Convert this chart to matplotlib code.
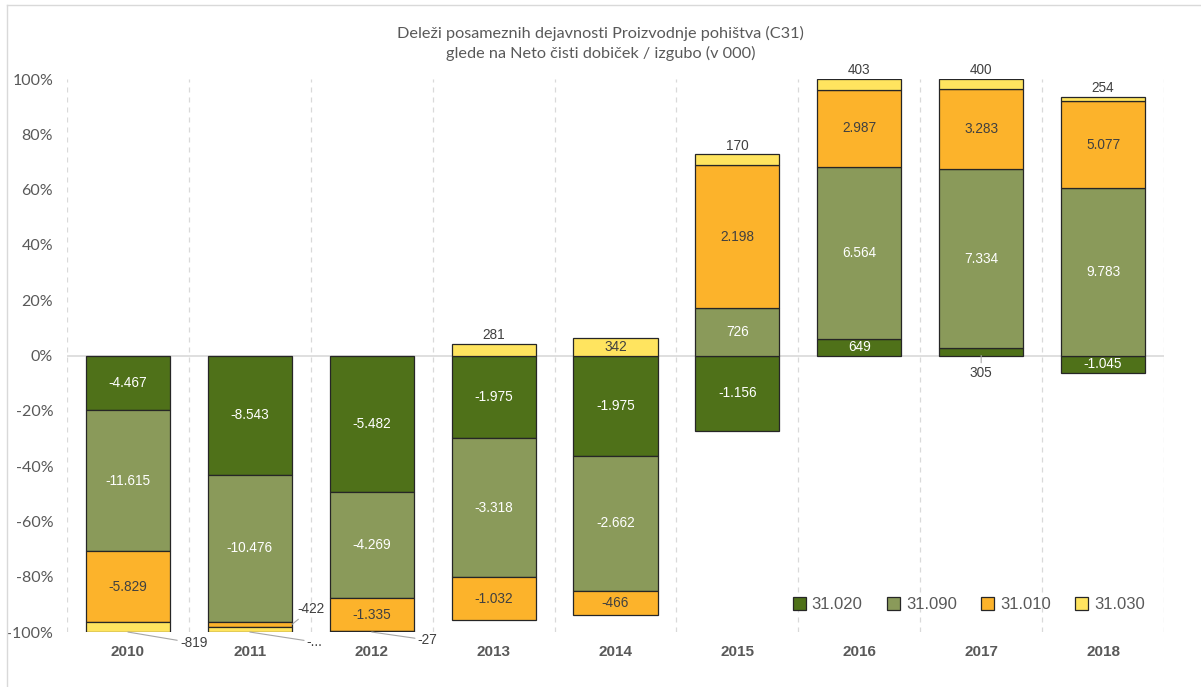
import numpy as np
import matplotlib.pyplot as plt
from matplotlib.lines import Line2D
from matplotlib.patches import Patch

# Neto čisti dobiček / izguba (v 000 EUR) po dejavnostih
leta = ['2010', '2011', '2012', '2013', '2014', '2015', '2016', '2017', '2018']
dejavnosti = ['31.020', '31.090', '31.010', '31.030']
v_31020 = [-4467, -8543, -5482, -1975, -1975, -1156, 649, 305, -1045]
v_31090 = [-11615, -10476, -4269, -3318, -2662, 726, 6564, 7334, 9783]
v_31010 = [-5829, -422, -1335, -1032, -466, 2198, 2987, 3283, 5077]
v_31030 = [-819, -330, -27, 281, 342, 170, 403, 400, 254]

barve = ['#4F7119', '#8A9A5A', '#FCB32B', '#FFE45F']
svetle = [True, True, False, False]

# oznake z vodilno črto: (leto, dejavnost) -> zamik v pikslih
vodila = {
    ('2010', '31.030'): (52, -11),
    ('2011', '31.010'): (5, 15),
    ('2011', '31.030'): (57, -10),
    ('2012', '31.030'): (46, -8),
    ('2017', '31.020'): (0, -17),
}
skrajsane = {('2011', '31.030'): '-...'}

serije = np.array([v_31020, v_31090, v_31010, v_31030], dtype=float)
skupaj = np.abs(serije).sum(axis=0)
deleži = serije / skupaj * 100


def fmt(v):
    return f'{int(v):,}'.replace(',', '.')


siva = '#595959'
fig = plt.figure(figsize=(12.01, 6.87), dpi=100)
ax = fig.add_axes([0.0558, 0.080, 0.9134, 0.805])

x = np.arange(len(leta))
sirina = 0.69
poz = np.zeros(len(leta))
neg = np.zeros(len(leta))

for i, ime in enumerate(dejavnosti):
    d = deleži[i]
    dno = np.where(d >= 0, poz, neg)
    ax.bar(x, d, sirina, bottom=dno, color=barve[i], edgecolor='#262626',
           linewidth=0.9, zorder=3)
    for j in range(len(leta)):
        h = d[j]
        zg = dno[j] + h
        sredina = dno[j] + h / 2
        besedilo = skrajsane.get((leta[j], ime), fmt(serije[i, j]))
        kljuc = (leta[j], ime)
        if kljuc in vodila:
            dx, dy = vodila[kljuc]
            if dy < 0:
                xy = (x[j], min(dno[j], zg))
            else:
                xy = (x[j] + sirina / 2, sredina)
            ax.annotate(besedilo, xy=xy, xytext=(dx, dy), textcoords='offset pixels',
                        ha='left' if dx > 0 else 'center', va='center',
                        fontsize=9.8, color='#404040', family='Liberation Sans',
                        arrowprops=dict(arrowstyle='-', color='#A6A6A6', lw=0.8,
                                        shrinkA=0, shrinkB=0),
                        zorder=5)
        elif ime == '31.030' and abs(h) < 5:
            ax.text(x[j], zg + 0.6, besedilo, ha='center', va='bottom',
                    fontsize=9.8, color='#404040', family='Liberation Sans', zorder=5)
        else:
            ax.text(x[j], sredina, besedilo, ha='center', va='center',
                    fontsize=9.8, color='white' if svetle[i] else '#404040',
                    family='Liberation Sans', zorder=5)
    poz = np.where(d >= 0, poz + d, poz)
    neg = np.where(d < 0, neg + d, neg)

ax.set_xlim(-0.5, len(leta) - 0.5)
ax.set_ylim(-100, 100)
ax.set_yticks(np.arange(-100, 101, 20))
ax.set_yticklabels([f'{t}%' for t in range(-100, 101, 20)])
ax.set_xticks(x)
ax.set_xticklabels(leta)

for s in ax.spines.values():
    s.set_visible(False)
ax.tick_params(axis='both', length=0)
ax.tick_params(axis='y', labelsize=11.5, labelcolor=siva, pad=10)
ax.tick_params(axis='x', labelsize=11, labelcolor=siva, pad=9)
for t in ax.get_yticklabels():
    t.set_family('Lato')
for t in ax.get_xticklabels():
    t.set_family('Liberation Sans')
    t.set_fontweight('bold')

# navpične črtkane mreže med leti in vodoravna črta pri 0
for m in np.arange(-0.5, len(leta), 1.0):
    ax.axvline(m, color='#D9D9D9', lw=0.9, ls=(0, (4, 4)), zorder=1)
ax.axhline(0, color='#D9D9D9', lw=1.2, zorder=2)

rocaji = [Patch(facecolor=barve[i], edgecolor='#262626', linewidth=0.9)
          for i in range(len(dejavnosti))]
leg = ax.legend(rocaji, dejavnosti, ncol=4, frameon=False, loc='center',
                bbox_to_anchor=(0.822, 0.05), handlelength=0.8, handleheight=0.8,
                handletextpad=0.35, columnspacing=1.45,
                prop={'family': 'Liberation Sans', 'size': 12})
for t in leg.get_texts():
    t.set_color(siva)

fig.text(0.5, 0.937, 'Deleži posameznih dejavnosti Proizvodnje pohištva (C31)\n'
         'glede na Neto čisti dobiček / izgubo (v 000)',
         ha='center', va='center', fontsize=11.7, color=siva, family='Lato',
         linespacing=1.45)

# okvir grafikona
fig.add_artist(Line2D([0.006, 0.006], [0, 0.993], transform=fig.transFigure,
                      color='#D9D9D9', lw=1))
fig.add_artist(Line2D([0.006, 1], [0.993, 0.993], transform=fig.transFigure,
                      color='#D9D9D9', lw=1))

fig.savefig('out.png', dpi=100)
